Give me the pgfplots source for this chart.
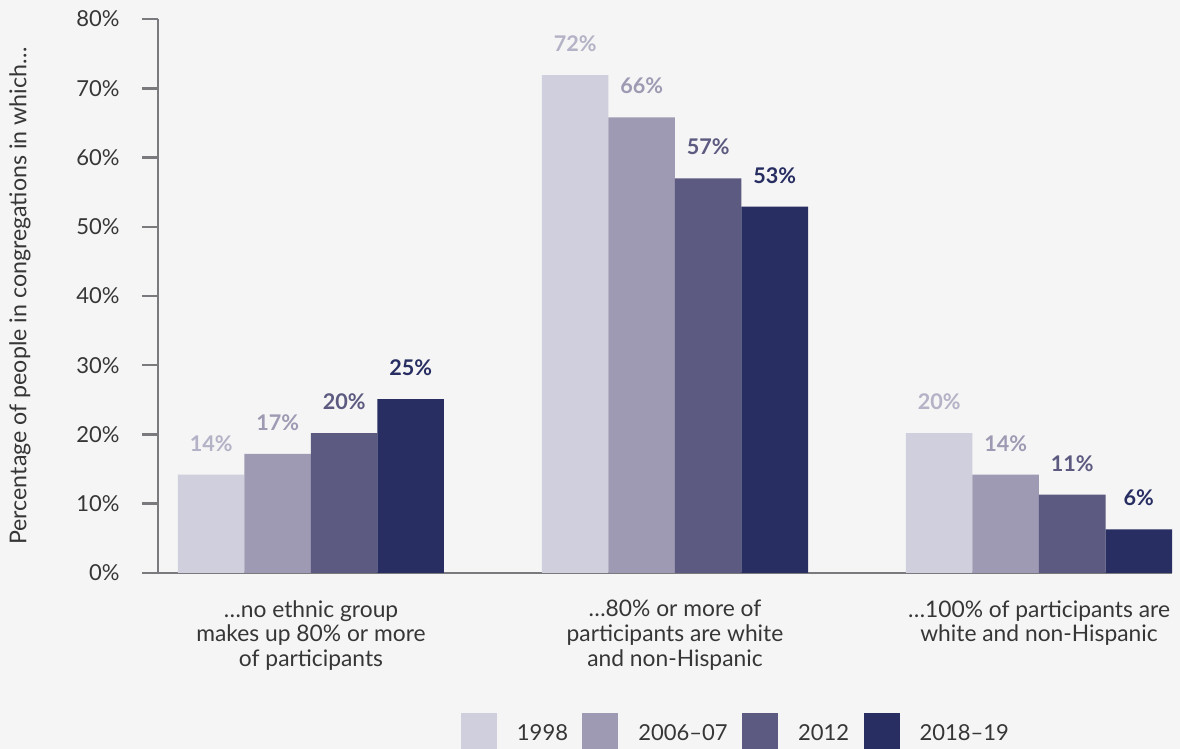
\documentclass[border=0pt]{standalone}
\usepackage{fontspec}
\setmainfont{Lato}
\usepackage{pgfplots}
\pgfplotsset{compat=1.18}
\definecolor{bg}{HTML}{F4F5F4}
\definecolor{cA}{HTML}{D0CFDD}
\definecolor{cB}{HTML}{9E9AB3}
\definecolor{cC}{HTML}{5C5A80}
\definecolor{cD}{HTML}{282E62}
\definecolor{lA}{HTML}{B4B2C6}
\definecolor{txt}{HTML}{363636}
\definecolor{axc}{HTML}{7A7A7E}
\begin{document}
\begin{tikzpicture}
\fill[bg] (0,0) rectangle (590pt,374.5pt);
\useasboundingbox (0,0) rectangle (590pt,374.5pt);
\begin{axis}[
  at={(79pt,88pt)}, anchor=south west,
  scale only axis, width=507pt, height=277pt,
  xmin=-0.4203, xmax=2.3654, ymin=0, ymax=80,
  axis x line=bottom, axis y line=left,
  axis line style={-, draw=axc, line width=1.25pt},
  ytick={0,10,...,80},
  yticklabels={0\%,10\%,20\%,30\%,40\%,50\%,60\%,70\%,80\%},
  ytick style={draw=axc, line width=1.25pt},
  tick align=outside, major tick length=8pt,
  yticklabel style={font=\fontsize{11}{13}\selectfont, text=txt, inner sep=0pt, xshift=-11pt},
  xtick={0,1,2},
  xtick style={draw=none},
  xticklabels={{\dots no ethnic group\\makes up 80\% or more\\of participants},
               {\dots 80\% or more of\\participants are white\\and non-Hispanic},
               {\dots 100\% of participants are\\white and non-Hispanic}},
  xticklabel style={align=center, font=\fontsize{11.4}{12.4}\selectfont, text=txt, inner sep=0pt, yshift=-5.5pt},
  ylabel={Percentage of people in congregations in which\dots},
  ylabel style={at={(axis description cs:-0.1361,0.5)}, anchor=center, font=\fontsize{11.6}{13}\selectfont, text=txt},
  ybar=0pt, bar width=0.1827,
  point meta=explicit symbolic,
  nodes near coords={\pgfplotspointmeta\%},
  every node near coord/.append style={font=\fontsize{10.8}{12}\selectfont\bfseries, anchor=south, inner sep=0pt, yshift=11.5pt},
  legend style={at={(axis description cs:0.2988,-0.31769)}, anchor=south west,
    draw=none, fill=none, inner sep=0pt, outer sep=0pt, legend columns=4,
    font=\fontsize{11}{13}\selectfont, text=txt, cells={anchor=west, inner sep=0pt},
    /tikz/every odd column/.append style={column sep=8pt},
    /tikz/every even column/.append style={column sep=5.2pt}},
  legend image code/.code={\fill[#1] (0pt,-7.5pt) rectangle (18pt,10.5pt);},
  clip=false,
]
\addplot[fill=cA, draw=none, bar shift=-0.27405, every node near coord/.append style={text=lA}]
  coordinates {(0,14.2) [14] (1,71.9) [72] (2,20.2) [20]};
\addplot[fill=cB, draw=none, bar shift=-0.09135, every node near coord/.append style={text=cB}]
  coordinates {(0,17.2) [17] (1,65.8) [66] (2,14.2) [14]};
\addplot[fill=cC, draw=none, bar shift=0.09135, every node near coord/.append style={text=cC}]
  coordinates {(0,20.2) [20] (1,57.0) [57] (2,11.3) [11]};
\addplot[fill=cD, draw=none, bar shift=0.27405, every node near coord/.append style={text=cD}]
  coordinates {(0,25.1) [25] (1,52.9) [53] (2,6.3) [6]};
\legend{1998,2006--07,2012,2018--19}
\end{axis}
\end{tikzpicture}
\end{document}
